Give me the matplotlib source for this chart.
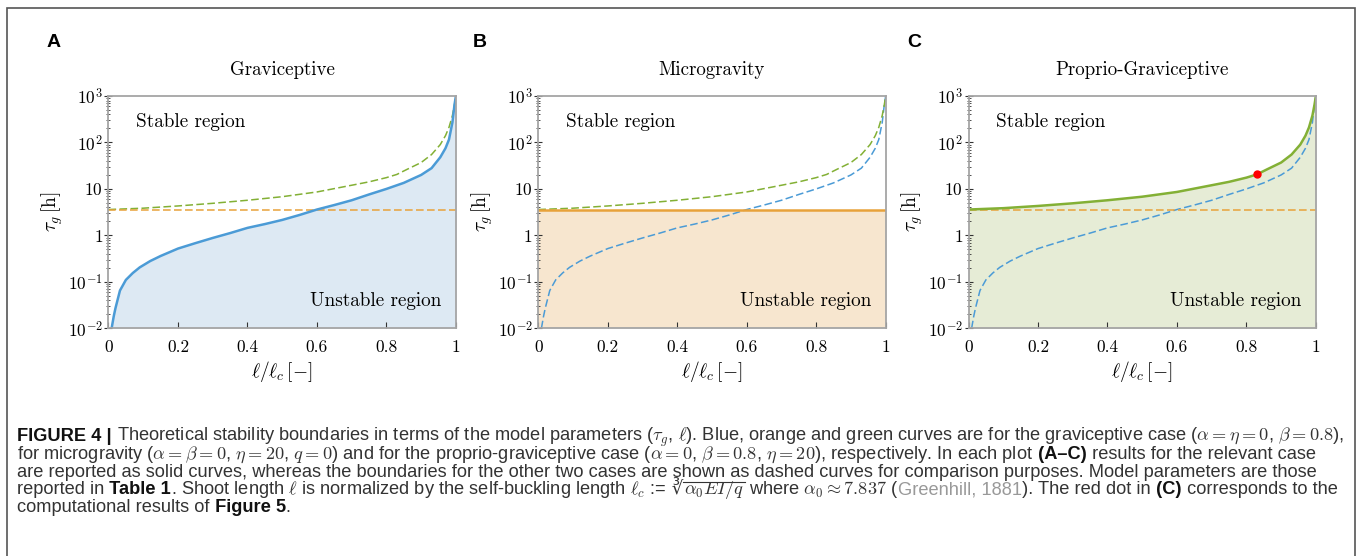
import matplotlib
matplotlib.use("Agg")
import matplotlib.pyplot as plt
from matplotlib.patches import Rectangle
from matplotlib.lines import Line2D
from matplotlib.ticker import LogLocator, NullFormatter

plt.rcParams['mathtext.fontset'] = 'cm'
plt.rcParams['font.family'] = 'cmr10'
plt.rcParams['axes.formatter.use_mathtext'] = True

# graviceptive boundary (blue)
ell_grav = [0.009, 0.015, 0.02, 0.033, 0.05, 0.07, 0.09, 0.12, 0.15, 0.2, 0.25, 0.3,
            0.35, 0.4, 0.45, 0.5, 0.55, 0.6, 0.65, 0.7, 0.75, 0.8, 0.85, 0.9, 0.93,
            0.955, 0.97, 0.98, 0.99, 0.996, 1.0]
tau_grav = [0.010, 0.018, 0.027, 0.065, 0.11, 0.155, 0.205, 0.28, 0.36, 0.52, 0.68, 0.88,
            1.12, 1.45, 1.75, 2.15, 2.75, 3.6, 4.5, 5.7, 7.6, 10.0, 13.5, 20, 28,
            48, 75, 115, 270, 650, 1000]
# proprio-graviceptive boundary (green)
ell_prop = [0.0, 0.1, 0.2, 0.3, 0.4, 0.5, 0.6, 0.7, 0.75, 0.8, 0.83, 0.86, 0.9, 0.93,
            0.955, 0.97, 0.98, 0.99, 0.996, 1.0]
tau_prop = [3.6, 3.85, 4.3, 4.9, 5.7, 6.8, 8.6, 12.0, 14.2, 17.5, 20.5, 26.5, 37, 55,
            90, 140, 210, 380, 650, 1000]
# microgravity boundary (orange)
tau_micro = 3.6
# computational result (red dot)
dot_ell = 0.83
dot_tau = 20.5

titles = ['Graviceptive', 'Microgravity', 'Proprio-Graviceptive']
letters = ['A', 'B', 'C']
xticks = [0, 0.2, 0.4, 0.6, 0.8, 1]
xticklabels = ['0', '0.2', '0.4', '0.6', '0.8', '1']
yticks = [1e-2, 1e-1, 1, 10, 1e2, 1e3]
yticklabels = [r'$10^{-2}$', r'$10^{-1}$', r'$1$', r'$10$', r'$10^{2}$', r'$10^{3}$']

blue, blue_fill = '#4b9bd6', '#dde9f3'
orange, orange_fill = '#e8a23a', '#f7e6cf'
green, green_fill = '#83b035', '#e6ecd6'

W, H = 1360, 556
fig = plt.figure(figsize=(13.6, 5.56), dpi=100)

lefts = [108.5, 538.3, 968.5]
ax_w, ax_top, ax_bot = 347.4, 96, 328.3
axes = []
for i in range(3):
    ax = fig.add_axes([lefts[i] / W, 1 - ax_bot / H, ax_w / W, (ax_bot - ax_top) / H])
    axes.append(ax)

solid_lw = 1.8
dash_lw = 1.1
dash = (5, 2.2)
x_full = [0, 1]

for i, ax in enumerate(axes):
    ax.set_yscale('log')
    if i == 0:
        ax.fill_between(ell_grav, 1e-2, tau_grav, color=blue_fill, lw=0)
        ax.plot(ell_prop, tau_prop, color=green, lw=dash_lw, dashes=dash)
        ax.plot(x_full, [tau_micro, tau_micro], color=orange, lw=dash_lw, dashes=dash)
        ax.plot(ell_grav, tau_grav, color=blue, lw=solid_lw)
    elif i == 1:
        ax.fill_between(x_full, 1e-2, tau_micro, color=orange_fill, lw=0)
        ax.plot(ell_grav, tau_grav, color=blue, lw=dash_lw, dashes=dash)
        ax.plot(ell_prop, tau_prop, color=green, lw=dash_lw, dashes=dash)
        ax.plot(x_full, [tau_micro, tau_micro], color=orange, lw=solid_lw)
    else:
        ax.fill_between(ell_prop, 1e-2, tau_prop, color=green_fill, lw=0)
        ax.plot(ell_grav, tau_grav, color=blue, lw=dash_lw, dashes=dash)
        ax.plot(x_full, [tau_micro, tau_micro], color=orange, lw=dash_lw, dashes=dash)
        ax.plot(ell_prop, tau_prop, color=green, lw=solid_lw)
        ax.plot([dot_ell], [dot_tau], 'o', color='#ff0000', ms=5, zorder=5)

    ax.set_xlim(0, 1)
    ax.set_ylim(1e-2, 1e3)
    ax.set_xticks(xticks)
    ax.set_xticklabels(xticklabels)
    ax.set_yticks(yticks)
    ax.set_yticklabels(yticklabels)
    ax.yaxis.set_minor_locator(LogLocator(base=10, subs=range(2, 10), numticks=20))
    ax.yaxis.set_minor_formatter(NullFormatter())
    ax.tick_params(axis='y', which='major', direction='inout', length=6, width=0.8,
                   color='#333333', pad=1, labelsize=12.5)
    ax.tick_params(axis='y', which='minor', direction='inout', length=3.5, width=0.6,
                   color='#333333')
    ax.tick_params(axis='x', which='major', direction='in', length=4, width=0.8,
                   color='#333333', pad=8, labelsize=12.5, top=False)
    for s in ax.spines.values():
        s.set_color('#a5a5a5')
        s.set_linewidth(1.3)

    ax.set_title(titles[i], fontsize=13.6, pad=15)
    ax.set_xlabel(r'$\ell/\ell_c\,[-]$', fontsize=14, labelpad=3)
    ax.set_ylabel(r'$\tau_g\,[\mathrm{h}]$', fontsize=14, labelpad=2)
    ax.text(0.08, 0.889, 'Stable region', transform=ax.transAxes, fontsize=13.8,
            ha='left', va='center')
    ax.text(0.958, 0.117, 'Unstable region', transform=ax.transAxes, fontsize=13.8,
            ha='right', va='center')

letter_x = [46.7, 472.7, 907.3]
for i in range(3):
    fig.text(letter_x[i] / W, 1 - 47 / H, letters[i], family='Liberation Sans',
             weight='bold', fontsize=14, ha='left', va='baseline')

# outer frame
fig.add_artist(Rectangle((7 / W, -0.05), (1354.5 - 7) / W, 1.05 - 7.5 / H,
                         transform=fig.transFigure, fill=False, lw=1.2,
                         edgecolor='#555555', clip_on=False))

# caption
cap_fam = ['Liberation Sans', 'DejaVu Sans']
reg = dict(family=cap_fam, color='#333333')
bold = dict(family=cap_fam, color='#111111', weight='bold')
gray = dict(family=cap_fam, color='#999999')
root = dict(family=['DejaVu Sans'], color='#333333')
body = dict(family=cap_fam, color='#333333')

cap_lines = [
    [('FIGURE 4 |', bold),
     (r' Theoretical stability boundaries in terms of the model parameters ($\tau_g$, $\ell$). '
      r'Blue, orange and green curves are for the graviceptive case ($\alpha=\eta=0$, $\beta=0.8$),', reg)],
    [(r'for microgravity ($\alpha=\beta=0$, $\eta=20$, $q=0$) and for the proprio-graviceptive case '
      r'($\alpha=0$, $\beta=0.8$, $\eta=20$), respectively. In each plot', reg),
     (' (A\u2013C)', bold),
     (' results for the relevant case', reg)],
    [('are reported as solid curves, whereas the boundaries for the other two cases are shown as '
      'dashed curves for comparison purposes. Model parameters are those', reg)],
    [('reported in', reg), (' Table 1', bold),
     (r'. Shoot length $\ell$ is normalized by the self-buckling length $\ell_c$ :=', reg),
     (' \u221b', root),
     (r'$\alpha_0 EI/q$', body),
     (r' where $\alpha_0 \approx 7.837$ (', reg),
     ('Greenhill, 1881', gray), ('). The red dot in', reg), (' (C)', bold),
     (' corresponds to the', reg)],
    [('computational results of', reg), (' Figure 5', bold), ('.', reg)],
]
cap_base = [441, 458.8, 476.6, 494.4, 512.2]

renderer = fig.canvas.get_renderer()


def draw_line(parts, y_px, size, keep=True):
    x = 17.0
    made = []
    prev_bb = None
    for txt, st in parts:
        t = fig.text(x / W, 1 - y_px / H, txt, fontsize=size, ha='left', va='baseline', **st)
        bb = t.get_window_extent(renderer)
        if keep and st is body and prev_bb is not None:
            # vinculum of the cube root over the radicand
            ytop = prev_bb.y1 - 1.5
            fig.add_artist(Line2D([(prev_bb.x1 - 1) / W, (bb.x1 + 1) / W], [ytop / H, ytop / H],
                                  transform=fig.transFigure, color='#333333', lw=0.8))
        x += bb.width
        prev_bb = bb
        made.append(t)
    if not keep:
        for t in made:
            t.remove()
    return x - 17.0


test_size = 11
w1 = draw_line(cap_lines[0], cap_base[0], test_size, keep=False)
cap_size = test_size * 1328.0 / w1
for parts, yb in zip(cap_lines, cap_base):
    draw_line(parts, yb, cap_size)

fig.savefig('out.png', dpi=100)
